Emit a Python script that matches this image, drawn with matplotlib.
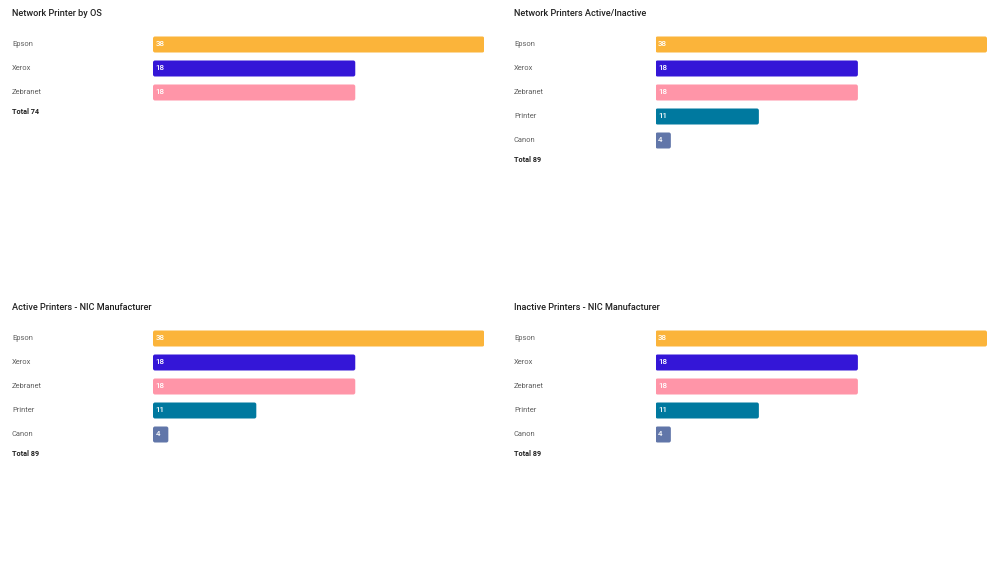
import matplotlib
matplotlib.use("Agg")
import matplotlib.pyplot as plt
from matplotlib.patches import FancyBboxPatch

plt.rcParams['font.family'] = ['Roboto', 'DejaVu Sans']

# ---- data ----
titles = ["Network Printer by OS", "Network Printers Active/Inactive",
          "Active Printers - NIC Manufacturer", "Inactive Printers - NIC Manufacturer"]
cats_os = ["Epson", "Xerox", "Zebranet"]
vals_os = [38, 18, 18]
cats_nic = ["Epson", "Xerox", "Zebranet", "Printer", "Canon"]
vals_nic = [38, 18, 18, 11, 4]
# bar lengths as drawn in the reference (the chart's bars are not proportional to labels)
len_os = [38, 23.2, 23.2]
len_nic_tr = [38, 23.2, 23.2, 11.85, 1.76]
len_nic_bl = [38, 23.2, 23.2, 11.85, 1.76]
len_nic_br = [38, 23.2, 23.2, 11.85, 1.76]
totals = [74, 89, 89, 89]
colors = ["#FBB43A", "#3416D7", "#FF95A8", "#00799F", "#6176A9"]

panels = [
    (titles[0], cats_os, vals_os, len_os, totals[0], 12, 153, 484.3, 13),
    (titles[1], cats_nic, vals_nic, len_nic_tr, totals[1], 514, 655.5, 987, 13),
    (titles[2], cats_nic, vals_nic, len_nic_bl, totals[2], 12, 153, 484.3, 307),
    (titles[3], cats_nic, vals_nic, len_nic_br, totals[3], 514, 655.5, 987, 307),
]

W, H = 999, 583
fig = plt.figure(figsize=(W / 100, H / 100), dpi=100)
fig.patch.set_facecolor("white")

def fx(x):
    return x / W

def fy(y):
    return 1 - y / H

row_gap = 24
bar_h = 16
for title, cats, vals, lens, total, tx, bx0, bx1, ty in panels:
    fig.text(fx(tx), fy(ty), title, fontsize=6.6, fontweight="medium",
             color="#222222", ha="left", va="center")
    first = ty + 31.5
    n = len(cats)
    top_px = first - row_gap / 2
    bot_px = first + row_gap * (n - 1) + row_gap / 2
    ax = fig.add_axes([fx(bx0), fy(bot_px), (bx1 - bx0) / W, (bot_px - top_px) / H])
    ax.set_xlim(0, 38)
    ax.set_ylim(n - 0.5, -0.5)
    ax.axis("off")
    xu_per_px = 38 / (bx1 - bx0)
    yu_per_px = 1 / row_gap
    r = 2.0 * xu_per_px
    for i, (c, v, L) in enumerate(zip(cats, vals, lens)):
        hh = bar_h * yu_per_px
        p = FancyBboxPatch((0, i - hh / 2), L, hh,
                           boxstyle=f"round,pad=0,rounding_size={r}",
                           mutation_aspect=yu_per_px / xu_per_px,
                           facecolor=colors[i], edgecolor="none")
        ax.add_patch(p)
        ax.text(2.5 * xu_per_px, i, str(v), color="white", fontsize=5.8,
                fontweight="medium", ha="left", va="center")
        fig.text(fx(tx), fy(first + row_gap * i), c, fontsize=5.4,
                 color="#5f5f5f", ha="left", va="center")
    fig.text(fx(tx), fy(first + row_gap * (n - 1) + 19.2), f"Total {total}",
             fontsize=5.2, fontweight="bold", color="#222222", ha="left", va="center")

fig.savefig("out.png", dpi=100, facecolor="white")
